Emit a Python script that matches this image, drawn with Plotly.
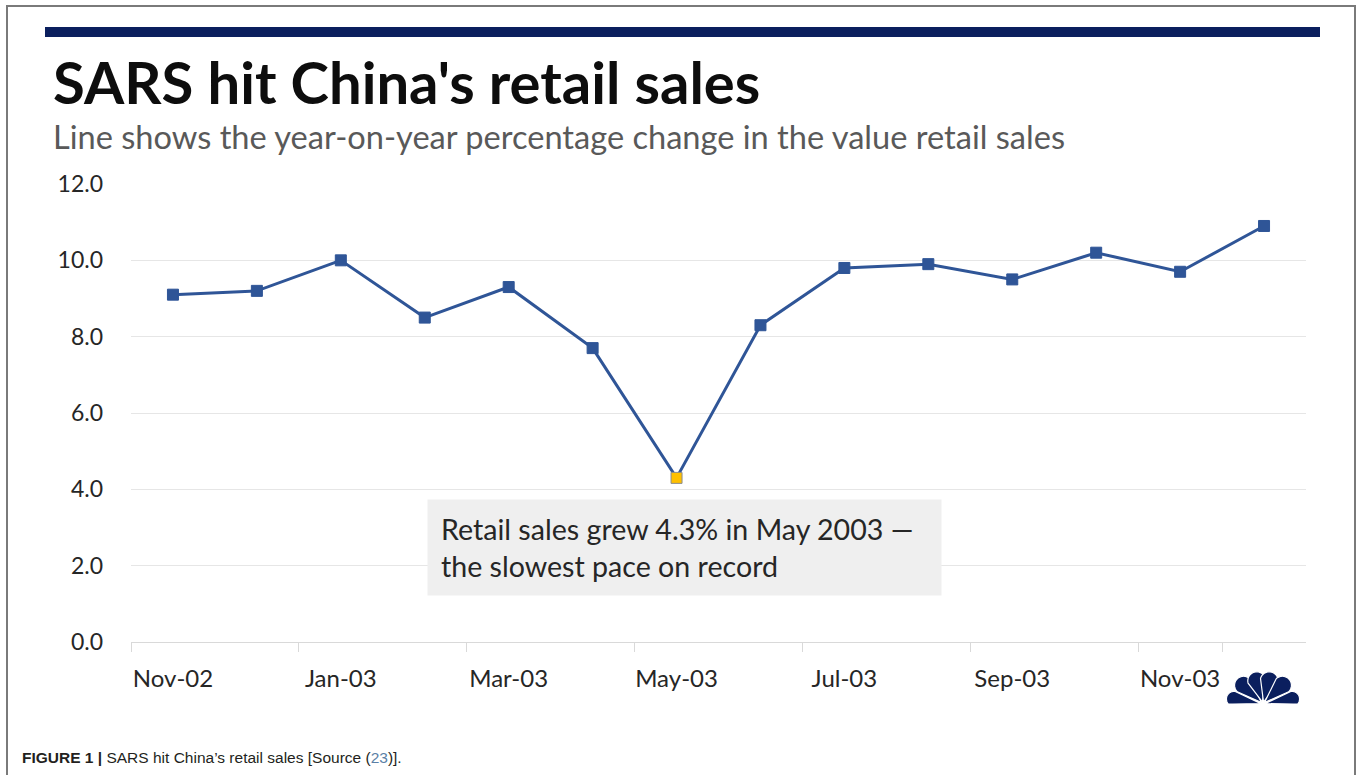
import numpy as np
import plotly.graph_objects as go

# Monthly year-on-year change in the value of China's retail sales (%)
months = ["Nov-02", "Dec-02", "Jan-03", "Feb-03", "Mar-03", "Apr-03", "May-03",
          "Jun-03", "Jul-03", "Aug-03", "Sep-03", "Oct-03", "Nov-03", "Dec-03"]
growth = [9.1, 9.2, 10.0, 8.5, 9.3, 7.7, 4.3, 8.3, 9.8, 9.9, 9.5, 10.2, 9.7, 10.9]
y_ticks = [0, 2, 4, 6, 8, 10, 12]
y_tick_text = ["0.0", "2.0", "4.0", "6.0", "8.0", "10.0", "12.0"]
x_tick_labels = months[::2]

title_text = "SARS hit China's retail sales"
subtitle_text = "Line shows the year-on-year percentage change in the value retail sales"
note_text = "Retail sales grew 4.3% in May 2003 —<br>the slowest pace on record"
caption_bold = "FIGURE 1 |"
caption_rest = " SARS hit China’s retail sales [Source (<span style='color:#5b7fa6'>23</span>)]."

W, H = 1357, 775
L, R, T, B = 131, 51, 184, 133
PW, PH = W - L - R, H - T - B

LINE_BLUE = "#2F5597"
HIGHLIGHT = "#FFC000"
NAVY = "#0B1F5E"
FONT = "Lato, Open Sans, sans-serif"


def px(x):
    return (x - L) / PW


def py(y):
    return (H - B - y) / PH


low = int(np.argmin(growth))
marker_colors = [HIGHLIGHT if i == low else LINE_BLUE for i in range(len(growth))]
marker_lines = ["#8c8c8c" if i == low else LINE_BLUE for i in range(len(growth))]

fig = go.Figure()
fig.add_trace(go.Scatter(
    x=months, y=growth, mode="lines+markers",
    line=dict(color=LINE_BLUE, width=3),
    marker=dict(symbol="square", size=11, color=marker_colors,
                line=dict(color=marker_lines, width=1)),
    hoverinfo="x+y", showlegend=False,
))

shapes = []
# frame
shapes.append(dict(type="path", xref="paper", yref="paper",
                   path=f"M {px(7)} {py(H + 5)} L {px(7)} {py(6)} L {px(1355)} {py(6)} L {px(1355)} {py(H + 5)}",
                   line=dict(color="#7a7a7a", width=2)))
# header bar
shapes.append(dict(type="rect", xref="paper", yref="paper",
                   x0=px(45), x1=px(1320), y0=py(37), y1=py(27),
                   fillcolor=NAVY, line=dict(width=0)))

# peacock emblem: a fan of feathers opening upward from a common base
cx, cy = 1263, 704
angles = [170, 136, 105, 75, 44, 10]
lengths = [37, 36, 33, 33, 36, 37]
widths = [7.5, 9, 9, 9, 9, 7.5]
for ang, ln, half_w in zip(angles, lengths, widths):
    a = np.radians(ang)
    ux, uy = np.cos(a), -np.sin(a)
    vx, vy = -uy, ux
    t = np.linspace(0, np.pi, 40)
    pts = [(cx + ux * 2, cy + uy * 2)]
    for tt in t:
        along = ln - half_w + half_w * np.sin(tt)
        side = half_w * np.cos(tt)
        pts.append((cx + ux * along + vx * side, cy + uy * along + vy * side))
    path = "M " + " L ".join(f"{px(x):.5f} {py(min(y, cy)):.5f}" for x, y in pts) + " Z"
    shapes.append(dict(type="path", xref="paper", yref="paper", path=path,
                       fillcolor=NAVY, line=dict(color="white", width=1.2)))

annotations = [
    dict(text=f"<b>{title_text}</b>", xref="paper", yref="paper",
         x=px(51), y=py(81), xanchor="left", yanchor="middle", showarrow=False,
         font=dict(family=FONT, size=58, color="#0d0d0d")),
    dict(text=subtitle_text, xref="paper", yref="paper",
         x=px(51), y=py(136), xanchor="left", yanchor="middle", showarrow=False,
         font=dict(family=FONT, size=32.6, color="#595959")),
    dict(text=note_text, xref="paper", yref="paper",
         x=px(427), y=py(502), xanchor="left", yanchor="top", showarrow=False,
         align="left", bgcolor="#EFEFEF", borderpad=13, width=487, height=69,
         yshift=3, font=dict(family=FONT, size=28.6, color="#262626")),
    dict(text=f"<b>{caption_bold}</b>{caption_rest}", xref="paper", yref="paper",
         x=px(20), y=py(757), xanchor="left", yanchor="middle", showarrow=False,
         font=dict(family="Liberation Sans, Arial, sans-serif", size=15.5, color="#231f20")),
]

fig.update_layout(
    width=W, height=H,
    margin=dict(l=L, r=R, t=T, b=B, pad=0),
    paper_bgcolor="white", plot_bgcolor="white",
    shapes=shapes, annotations=annotations,
    font=dict(family=FONT, color="#404040"),
    xaxis=dict(
        type="category", categoryorder="array", categoryarray=months,
        range=[-0.5, len(months) - 0.5],
        tickmode="array", tickvals=x_tick_labels, ticktext=x_tick_labels,
        tickson="boundaries", ticks="outside", ticklen=9, tickcolor="#d9d9d9", tickwidth=1,
        tickangle=0, ticklabelstandoff=15,
        showgrid=False, showline=True, linecolor="#d9d9d9", linewidth=1,
        tickfont=dict(family=FONT, size=24, color="#262626"),
        zeroline=False, fixedrange=True,
    ),
    yaxis=dict(
        range=[0, 12], tickmode="array", tickvals=y_ticks, ticktext=y_tick_text,
        showgrid=True, gridcolor="#e6e6e6", gridwidth=1,
        showline=False, zeroline=False, ticks="", ticklabelstandoff=27,
        tickfont=dict(family=FONT, size=23, color="#262626"), fixedrange=True,
    ),
)

fig.write_html("out.html")
